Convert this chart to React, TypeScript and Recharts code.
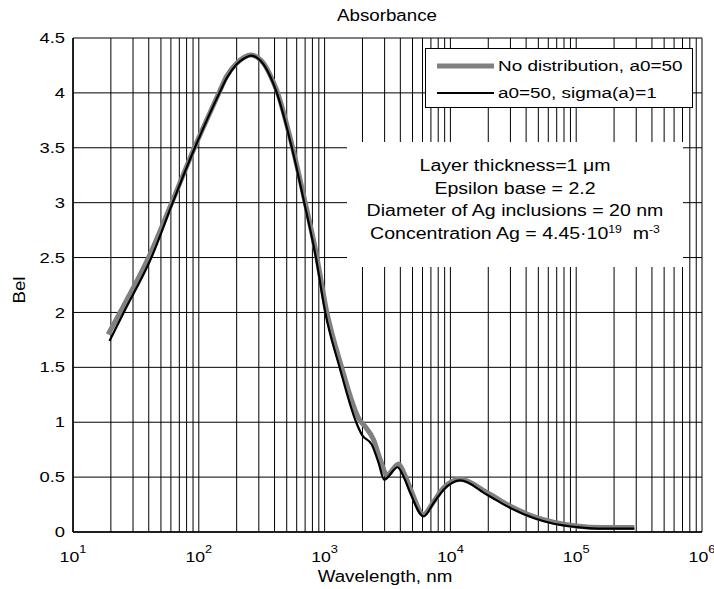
import React from 'react';
import { LineChart, Line, XAxis, YAxis, CartesianGrid, Legend } from 'recharts';

// Wavelength (nm) and absorbance (Bel) for "No distribution, a0=50"
const wavelengthGray = [19, 25, 41, 62, 93, 146, 166, 200, 230, 260, 295, 327, 370, 417, 549, 689, 853, 1030, 1350, 1900, 2100, 2450, 2750, 3130, 3870, 4300, 4900, 6100, 7300, 8800, 12000, 19500, 30000, 46000, 66000, 100000, 165000, 290000];
const belGray = [1.80, 2.05, 2.53, 3.02, 3.51, 4.01, 4.15, 4.27, 4.325, 4.345, 4.32, 4.27, 4.16, 4.02, 3.53, 3.04, 2.55, 2.03, 1.52, 1.02, 0.96, 0.84, 0.67, 0.52, 0.62, 0.53, 0.37, 0.16, 0.27, 0.40, 0.48, 0.36, 0.235, 0.14, 0.09, 0.055, 0.04, 0.04];

// Wavelength (nm) and absorbance (Bel) for "a0=50, sigma(a)=1"
const wavelengthBlack = [19.5, 25.3, 42, 62, 93, 146, 166, 200, 230, 260, 295, 327, 370, 417, 549, 689, 853, 1012, 1316, 1782, 1982, 2376, 2686, 2978, 3802, 4240, 4800, 6120, 7350, 8830, 12000, 19540, 30000, 45900, 66200, 101600, 165000, 290000];
const belBlack = [1.74, 2.0, 2.5, 3.0, 3.5, 4.0, 4.13, 4.26, 4.315, 4.34, 4.315, 4.26, 4.15, 4.0, 3.5, 3.0, 2.5, 2.0, 1.5, 1.0, 0.885, 0.794, 0.63, 0.476, 0.59, 0.506, 0.355, 0.142, 0.264, 0.385, 0.47, 0.34, 0.218, 0.127, 0.075, 0.045, 0.03, 0.03];

const decadeExponents = [1, 2, 3, 4, 5];
const minorMultipliers = [1, 2, 3, 4, 5, 6, 7, 8, 9];
const lastDecadeExponent = 6;
const belTicks = [0, 0.5, 1, 1.5, 2, 2.5, 3, 3.5, 4, 4.5];

const seriesNames = ['No distribution, a0=50', 'a0=50, sigma(a)=1'];
const annotationLines = ['Layer thickness=1 \u03bcm', 'Epsilon base = 2.2', 'Diameter of Ag inclusions = 20 nm'];

const grayData = wavelengthGray.map((wl, i) => ({ wl, bel: belGray[i] }));
const blackData = wavelengthBlack.map((wl, i) => ({ wl, bel: belBlack[i] }));

const xTicks: number[] = [];
decadeExponents.forEach((e) => minorMultipliers.forEach((m) => xTicks.push(m * Math.pow(10, e))));
xTicks.push(Math.pow(10, lastDecadeExponent));

const FONT = '"Liberation Sans", Arial, Helvetica, sans-serif';
const SX = 1.22;

const XTick = (props: any) => {
  const { x, y, payload } = props;
  const v = payload.value;
  const e = Math.round(Math.log10(v));
  if (Math.abs(v - Math.pow(10, e)) > 1e-6 * v) return <g />;
  return (
    <g transform={`translate(${x},${y + 22}) scale(${SX},1)`}>
      <text x={0} y={0} textAnchor="middle" fontSize={14.5} fontFamily={FONT} fill="#000">
        10<tspan dy={-9} fontSize={10.5}>{e}</tspan>
      </text>
    </g>
  );
};

const YTick = (props: any) => {
  const { x, y, payload } = props;
  return (
    <g transform={`translate(${x},${y}) scale(${SX + 0.05},1)`}>
      <text x={0} y={0} dy="0.355em" textAnchor="end" fontSize={14.5} fontFamily={FONT} fill="#000">
        {String(payload.value)}
      </text>
    </g>
  );
};

const renderLegend = (props: any) => {
  const items = props.payload || [];
  return (
    <div style={{ width: 266, height: 58, border: '1px solid #000', background: '#fff', position: 'relative', fontFamily: FONT }}>
      {items.map((it: any, i: number) => (
        <div key={i} style={{ position: 'absolute', left: 0, top: 17 + i * 27 - 10, height: 20, width: 266 }}>
          <svg width={70} height={20} style={{ position: 'absolute', left: 0, top: 0 }}>
            <line x1={11} x2={68} y1={10} y2={10} stroke={it.color} strokeWidth={i === 0 ? 5 : 2.2} />
          </svg>
          <div style={{ position: 'absolute', left: 72, top: 0, lineHeight: '20px', fontSize: 15.5, color: '#000', whiteSpace: 'nowrap', transform: `scaleX(${SX})`, transformOrigin: 'left center' }}>
            {it.value}
          </div>
        </div>
      ))}
    </div>
  );
};

const textStyle: React.CSSProperties = {
  position: 'absolute',
  fontFamily: FONT,
  fontSize: 16,
  color: '#000',
  whiteSpace: 'nowrap',
};

const supStyle: React.CSSProperties = { fontSize: 10, verticalAlign: 'top', position: 'relative', top: -4 };

export default function App() {
  return (
    <div style={{ position: 'absolute', left: 0, top: 0, width: 714, height: 589, background: '#fff' }}>
      <LineChart width={714} height={589} margin={{ top: 38, right: 12, bottom: 17, left: 0 }}>
        <CartesianGrid stroke="#000" strokeWidth={1} />
        <XAxis
          dataKey="wl"
          type="number"
          scale="log"
          domain={[10, 1000000]}
          ticks={xTicks}
          interval={0}
          allowDataOverflow
          tick={(p: any) => <XTick {...p} />}
          tickLine={false}
          axisLine={{ stroke: '#000', strokeWidth: 1.5 }}
          height={40}
        />
        <XAxis
          xAxisId="top"
          orientation="top"
          type="number"
          scale="log"
          domain={[10, 1000000]}
          allowDataOverflow
          tick={false}
          tickLine={false}
          axisLine={{ stroke: '#000', strokeWidth: 1.5 }}
          height={0}
        />
        <YAxis
          type="number"
          domain={[0, 4.5]}
          ticks={belTicks}
          interval={0}
          width={73}
          tick={(p: any) => <YTick {...p} />}
          tickLine={false}
          axisLine={{ stroke: '#000', strokeWidth: 1.5 }}
        />
        <YAxis
          yAxisId="right"
          orientation="right"
          type="number"
          domain={[0, 4.5]}
          tick={false}
          tickLine={false}
          width={0}
          axisLine={{ stroke: '#000', strokeWidth: 1.5 }}
        />
        <Legend
          layout="vertical"
          verticalAlign="middle"
          align="center"
          content={renderLegend}
          wrapperStyle={{ left: 425, top: 48, width: 268, height: 60 }}
        />
        <Line
          data={grayData}
          dataKey="bel"
          name={seriesNames[0]}
          type="monotone"
          stroke="#808080"
          strokeWidth={5}
          dot={false}
          activeDot={false}
          isAnimationActive={false}
        />
        <Line
          data={blackData}
          dataKey="bel"
          name={seriesNames[1]}
          type="monotone"
          stroke="#000"
          strokeWidth={2.2}
          dot={false}
          activeDot={false}
          isAnimationActive={false}
        />
      </LineChart>

      {/* annotation box */}
      <div style={{ position: 'absolute', left: 347, top: 142, width: 336, height: 125, background: '#fff', fontFamily: FONT }}>
        {annotationLines.map((t, i) => (
          <div key={i} style={{ ...textStyle, left: 0, width: 336, top: 13 + i * 22.7, lineHeight: '22px', textAlign: 'center', transform: `scaleX(${SX})` }}>
            {t}
          </div>
        ))}
        <div style={{ ...textStyle, left: 0, width: 336, top: 13 + 3 * 22.7, lineHeight: '22px', textAlign: 'center', transform: `scaleX(${SX})` }}>
          Concentration Ag = 4.45{'\u00b7'}10<sup style={supStyle}>19</sup>{'\u00a0\u00a0'}m<sup style={supStyle}>-3</sup>
        </div>
      </div>

      {/* title */}
      <div style={{ ...textStyle, left: 287, width: 200, top: 6, lineHeight: '20px', textAlign: 'center', transform: `scaleX(${SX - 0.05})` }}>
        Absorbance
      </div>
      {/* x label */}
      <div style={{ ...textStyle, left: 285, width: 200, top: 567, lineHeight: '20px', textAlign: 'center', transform: `scaleX(${SX - 0.05})` }}>
        Wavelength, nm
      </div>
      {/* y label */}
      <div style={{ ...textStyle, left: -30, width: 100, top: 280, lineHeight: '20px', textAlign: 'center', transform: `rotate(-90deg) scaleX(${SX - 0.05})` }}>
        Bel
      </div>
    </div>
  );
}
